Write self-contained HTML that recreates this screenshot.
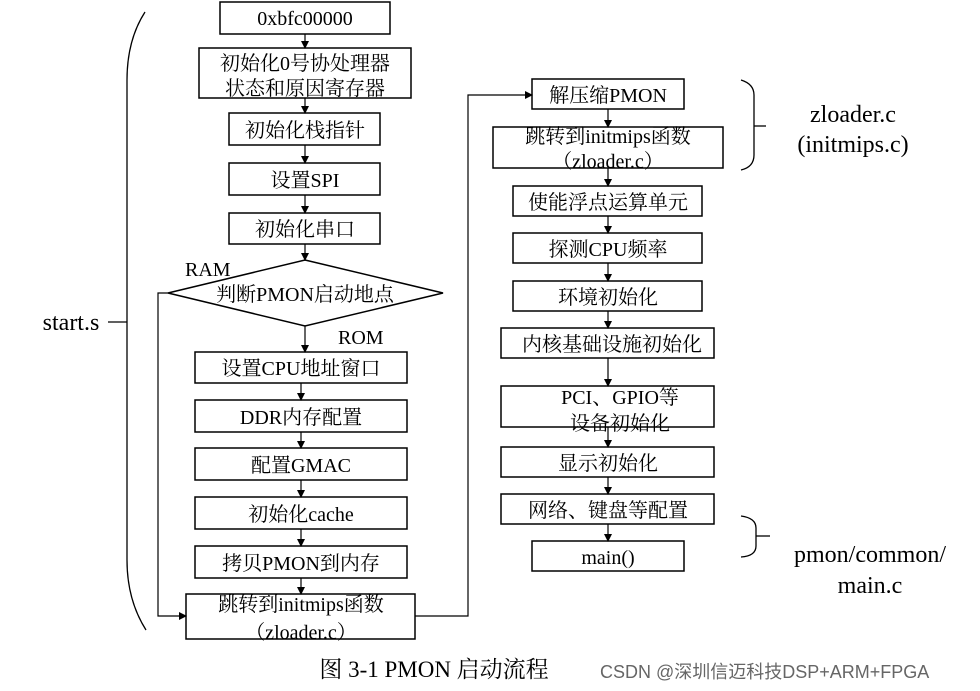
<!DOCTYPE html>
<html><head><meta charset="utf-8"><style>
html,body{margin:0;padding:0;background:#fff;width:980px;height:691px;overflow:hidden}
text{font-family:"Liberation Serif","Noto Serif CJK SC",serif;fill:#000}
</style></head><body>
<svg width="980" height="691" viewBox="0 0 980 691" xmlns="http://www.w3.org/2000/svg">
<defs><marker id="a" markerWidth="8" markerHeight="8" refX="7" refY="4" orient="auto" markerUnits="userSpaceOnUse"><path d="M0,0L8,4L0,8z" fill="#000"/></marker></defs>
<g fill="none" stroke="#000" stroke-width="1.5">
<rect x="220" y="2" width="170" height="32"/>
<rect x="199" y="48" width="212" height="50"/>
<rect x="229" y="113" width="151" height="32"/>
<rect x="229" y="163" width="151" height="32"/>
<rect x="229" y="213" width="151" height="31"/>
<polygon points="305,260 443,293 305,326 168,293"/>
<rect x="195" y="352" width="212" height="31"/>
<rect x="195" y="400" width="212" height="32"/>
<rect x="195" y="448" width="212" height="32"/>
<rect x="195" y="497" width="212" height="32"/>
<rect x="195" y="546" width="212" height="32"/>
<rect x="186" y="594" width="229" height="45"/>
<rect x="532" y="79" width="152" height="30"/>
<rect x="493" y="127" width="230" height="41"/>
<rect x="513" y="186" width="189" height="30"/>
<rect x="513" y="233" width="189" height="30"/>
<rect x="513" y="281" width="189" height="30"/>
<rect x="501" y="328" width="213" height="30"/>
<rect x="501" y="386" width="213" height="41"/>
<rect x="501" y="447" width="213" height="30"/>
<rect x="501" y="494" width="213" height="30"/>
<rect x="532" y="541" width="152" height="30"/>
</g>
<g stroke="#000" stroke-width="1.2" fill="none" marker-end="url(#a)">
<line x1="305" y1="34" x2="305" y2="48"/>
<line x1="305" y1="98" x2="305" y2="113"/>
<line x1="305" y1="145" x2="305" y2="163"/>
<line x1="305" y1="195" x2="305" y2="213"/>
<line x1="305" y1="244" x2="305" y2="260"/>
<line x1="305" y1="326" x2="305" y2="352"/>
<line x1="301" y1="383" x2="301" y2="400"/>
<line x1="301" y1="432" x2="301" y2="448"/>
<line x1="301" y1="480" x2="301" y2="497"/>
<line x1="301" y1="529" x2="301" y2="546"/>
<line x1="301" y1="578" x2="301" y2="594"/>
<polyline points="168,293 158,293 158,616 186,616"/>
<polyline points="415,616 468,616 468,95 532,95"/>
<line x1="608" y1="109" x2="608" y2="127"/>
<line x1="608" y1="168" x2="608" y2="186"/>
<line x1="608" y1="216" x2="608" y2="233"/>
<line x1="608" y1="263" x2="608" y2="281"/>
<line x1="608" y1="311" x2="608" y2="328"/>
<line x1="608" y1="358" x2="608" y2="386"/>
<line x1="608" y1="427" x2="608" y2="447"/>
<line x1="608" y1="477" x2="608" y2="494"/>
<line x1="608" y1="524" x2="608" y2="541"/>
</g>
<g stroke="#000" stroke-width="1.3" fill="none">
<path d="M145,12 Q127,40 127,80 L127,560 Q127,600 146,630"/>
<line x1="108" y1="322" x2="127" y2="322"/>
<path d="M741,80 Q754,84 754,95 L754,155 Q754,167 741,170"/>
<line x1="754" y1="126" x2="766" y2="126"/>
<path d="M741,516 Q756,518 756,528 L756,546 Q756,556 741,557"/>
<line x1="756" y1="536" x2="770" y2="536"/>
</g>
<g font-size="20" text-anchor="middle">
<text x="305" y="25">0xbfc00000</text>
<text x="305" y="70">初始化0号协处理器</text>
<text x="305" y="95">状态和原因寄存器</text>
<text x="305" y="137">初始化栈指针</text>
<text x="305" y="187">设置SPI</text>
<text x="305" y="236">初始化串口</text>
<text x="305" y="301">判断PMON启动地点</text>
<text x="301" y="375">设置CPU地址窗口</text>
<text x="301" y="424">DDR内存配置</text>
<text x="301" y="472">配置GMAC</text>
<text x="301" y="521">初始化cache</text>
<text x="301" y="570">拷贝PMON到内存</text>
<text x="301" y="611">跳转到initmips函数</text>
<text x="301" y="639">（zloader.c）</text>
<text x="608" y="102">解压缩PMON</text>
<text x="608" y="143">跳转到initmips函数</text>
<text x="608" y="168">（zloader.c）</text>
<text x="608" y="209">使能浮点运算单元</text>
<text x="608" y="256">探测CPU频率</text>
<text x="608" y="304">环境初始化</text>
<text x="612" y="351">内核基础设施初始化</text>
<text x="620" y="404">PCI、GPIO等</text>
<text x="620" y="430">设备初始化</text>
<text x="608" y="470">显示初始化</text>
<text x="608" y="517">网络、键盘等配置</text>
<text x="608" y="564">main()</text>
</g>
<g font-size="20">
<text x="185" y="276">RAM</text>
<text x="338" y="344">ROM</text>
</g>
<g font-size="24" text-anchor="middle">
<text x="71" y="330">start.s</text>
<text x="853" y="122">zloader.c</text>
<text x="853" y="152">(initmips.c)</text>
<text x="870" y="562">pmon/common/</text>
<text x="870" y="593">main.c</text>
<text x="434" y="677" font-size="23">图 3-1 PMON 启动流程</text>
</g>
<text x="600" y="678" font-size="18" style="font-family:'Liberation Sans','Noto Sans CJK SC',sans-serif;fill:#666">CSDN @深圳信迈科技DSP+ARM+FPGA</text>
</svg>
</body></html>
